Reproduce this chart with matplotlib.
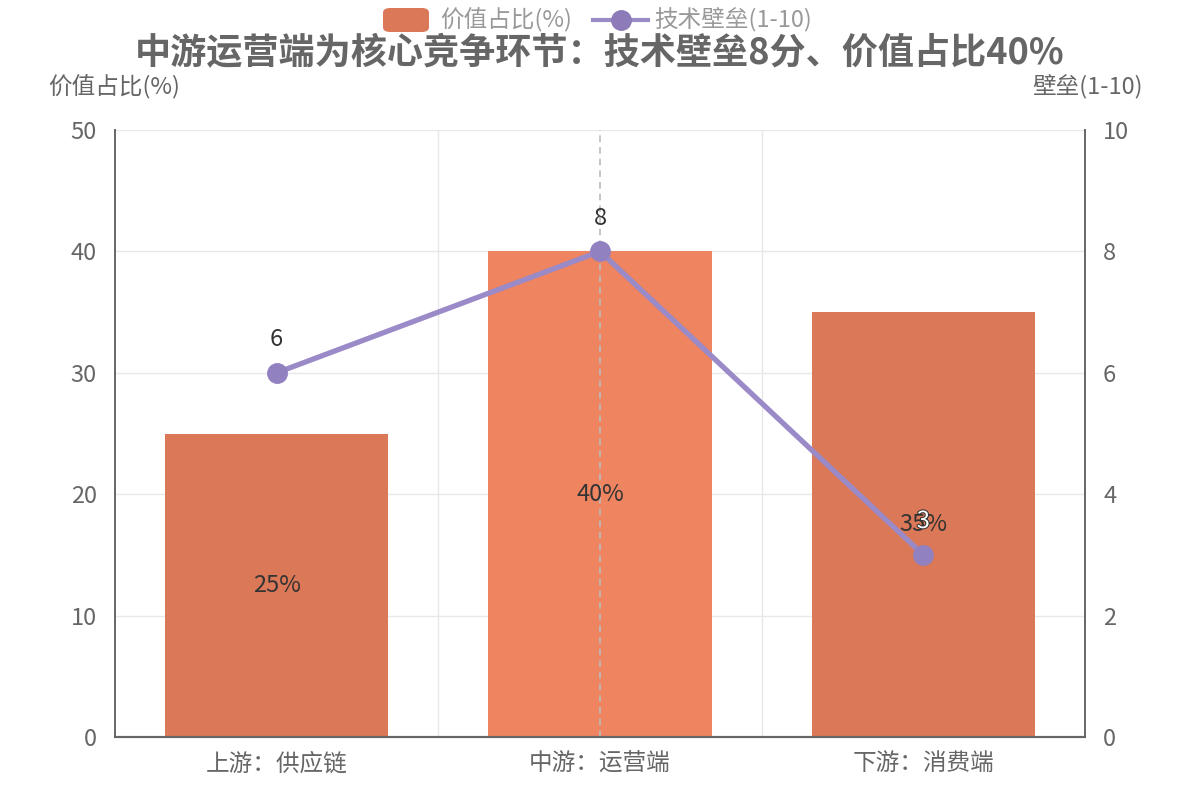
import matplotlib
matplotlib.use("Agg")
import matplotlib.pyplot as plt
import matplotlib.patheffects as pe
from matplotlib.lines import Line2D
from matplotlib.patches import FancyBboxPatch

plt.rcParams['font.family'] = ['Noto Sans CJK SC', 'DejaVu Sans']

# data
categorias = ["上游：供应链", "中游：运营端", "下游：消费端"]
valor_pct = [25, 40, 35]
barreira = [6, 8, 3]
destaque = 1

cor_barra = "#DB7857"
cor_destaque = "#EE8460"
cor_linha = "#9A8AC8"
cor_ponto = "#9181C0"
cinza = "#666666"

fig = plt.figure(figsize=(12, 8), dpi=100)
ax = fig.add_axes([115 / 1200, 63 / 800, 970 / 1200, 607 / 800])
ax2 = ax.twinx()

x = list(range(len(categorias)))
cores = [cor_destaque if i == destaque else cor_barra for i in x]
bars = ax.bar(x, valor_pct, width=0.69, color=cores, zorder=2)
for b, v in zip(bars, valor_pct):
    ax.text(b.get_x() + b.get_width() / 2, v / 2, f"{v}%", ha="center", va="center",
            fontsize=17, color="#333333", zorder=5)

ax.set_xlim(-0.5, 2.5)
ax.set_ylim(0, 50)
ax.set_yticks(range(0, 51, 10))
ax.set_xticks(x)
ax.set_xticklabels(categorias)
ax.set_xticks([0.5, 1.5], minor=True)
ax.grid(axis="y", color="#E8E8E8", lw=1, zorder=0)
ax.grid(axis="x", which="minor", color="#E8E8E8", lw=1, zorder=0)
ax.tick_params(axis="x", which="both", length=0, labelsize=17, labelcolor=cinza, pad=11)
ax.tick_params(axis="y", length=0, labelsize=17, labelcolor=cinza, pad=13)
ax.axvline(destaque, color="#BBBBBB", lw=1.2, ls=(0, (4, 3)), zorder=3)

ax2.plot(x, barreira, color=cor_linha, lw=3.8, marker="o", markersize=14,
         markerfacecolor=cor_ponto, markeredgecolor=cor_ponto, zorder=4)
ax2.set_ylim(0, 10)
ax2.set_yticks(range(0, 11, 2))
ax2.tick_params(axis="y", length=0, labelsize=17, labelcolor=cinza, pad=13)
for i, v in enumerate(barreira):
    if i == 2:
        ax2.text(i, v + 0.55, str(v), ha="center", va="center", fontsize=17, color="white",
                 path_effects=[pe.withStroke(linewidth=1.5, foreground="#333333")], zorder=6)
    else:
        ax2.text(i, v + 0.55, str(v), ha="center", va="center", fontsize=17, color="#333333", zorder=6)

for a in (ax, ax2):
    a.spines["top"].set_visible(False)
    a.spines["left"].set_color(cinza)
    a.spines["right"].set_color(cinza)
    a.spines["bottom"].set_color(cinza)
    a.spines["left"].set_linewidth(1.2)
    a.spines["right"].set_linewidth(1.2)
    a.spines["bottom"].set_linewidth(1.5)
ax.set_zorder(ax2.get_zorder() - 1)
ax2.patch.set_visible(False)

fig.text(48 / 1200, 1 - 87 / 800, "价值占比(%)", fontsize=17, color=cinza, ha="left", va="center")
fig.text(1143 / 1200, 1 - 87 / 800, "壁垒(1-10)", fontsize=17, color=cinza, ha="right", va="center")
fig.text(0.5, 1 - 54 / 800, "中游运营端为核心竞争环节：技术壁垒8分、价值占比40%",
         fontsize=26, fontweight="bold", color=cinza, ha="center", va="center")

# legend drawn by hand at the top
ly = 1 - 20 / 800
fig.patches.append(FancyBboxPatch((383 / 1200, ly - 12 / 800), 46 / 1200, 24 / 800,
                                  boxstyle="round,pad=0,rounding_size=0.006",
                                  transform=fig.transFigure, facecolor=cor_barra, edgecolor="none"))
fig.text(440 / 1200, ly, "价值占比(%)", fontsize=17, color="#999999", ha="left", va="center")
fig.add_artist(Line2D([593 / 1200, 648 / 1200], [ly, ly], transform=fig.transFigure,
                      color=cor_linha, lw=3))
fig.add_artist(Line2D([620.5 / 1200], [ly], transform=fig.transFigure, marker="o", markersize=14,
                      markerfacecolor="#8C7BB8", markeredgecolor="#8C7BB8", lw=0))
fig.text(654 / 1200, ly, "技术壁垒(1-10)", fontsize=17, color="#999999", ha="left", va="center")

fig.savefig("out.png", dpi=100)
